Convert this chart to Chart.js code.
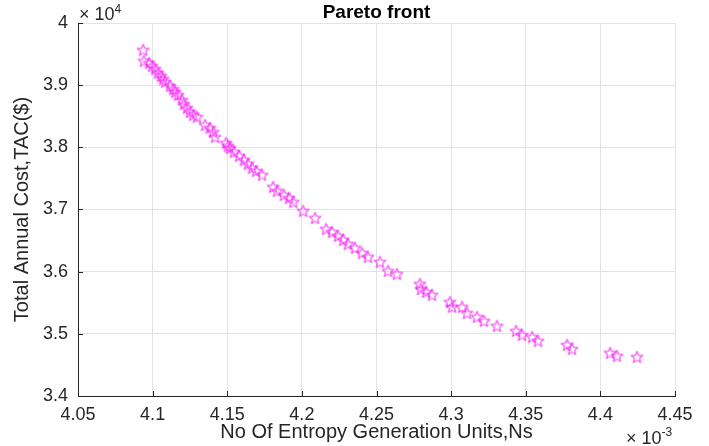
<!DOCTYPE html>
<html>
<head>
<meta charset="utf-8">
<script src="https://cdn.jsdelivr.net/npm/chart.js@4"></script>
<style>
  html, body { margin: 0; padding: 0; background: #fff; }
  #wrap { width: 709px; height: 446px; }
</style>
</head>
<body>
<div id="wrap"><canvas id="paretoChart"></canvas></div>
<script>
// No of entropy generation units Ns (x 1e-3)
const entropyNs = [
  4.0936, 4.0942, 4.0976, 4.0996, 4.1016, 4.1036, 4.1056, 4.1070, 4.1083, 4.1116,
  4.1137, 4.1150, 4.1170, 4.1197, 4.1210, 4.1230, 4.1250, 4.1271, 4.1297, 4.1351,
  4.1384, 4.1405, 4.1418, 4.1492, 4.1505, 4.1518, 4.1545, 4.1579, 4.1612, 4.1639,
  4.1666, 4.1693, 4.1733, 4.1807, 4.1833, 4.1880, 4.1914, 4.1941, 4.2008, 4.2088,
  4.2162, 4.2202, 4.2242, 4.2276, 4.2309, 4.2356, 4.2403, 4.2443, 4.2523, 4.2577,
  4.2637, 4.2791, 4.2798, 4.2832, 4.2872, 4.2992, 4.3006, 4.3073, 4.3106, 4.3173,
  4.3220, 4.3307, 4.3435, 4.3475, 4.3542, 4.3582, 4.3776, 4.3810, 4.4065, 4.4111,
  4.4245
];
// Total annual cost TAC (x 1e4 $)
const costTAC = [
  3.9566, 3.9389, 3.9357, 3.9308, 3.9260, 3.9196, 3.9147, 3.9099, 3.9051, 3.8987,
  3.8938, 3.8890, 3.8842, 3.8761, 3.8697, 3.8633, 3.8568, 3.8520, 3.8488, 3.8359,
  3.8311, 3.8247, 3.8166, 3.8070, 3.8022, 3.7989, 3.7925, 3.7861, 3.7796, 3.7732,
  3.7668, 3.7619, 3.7555, 3.7362, 3.7298, 3.7233, 3.7185, 3.7121, 3.6976, 3.6863,
  3.6686, 3.6638, 3.6574, 3.6510, 3.6445, 3.6381, 3.6300, 3.6236, 3.6156, 3.6011,
  3.5963, 3.5802, 3.5721, 3.5673, 3.5625, 3.5512, 3.5432, 3.5432, 3.5335, 3.5271,
  3.5207, 3.5126, 3.5046, 3.4982, 3.4949, 3.4885, 3.4821, 3.4756, 3.4692, 3.4644,
  3.4628
];
const xTicks = [4.05, 4.1, 4.15, 4.2, 4.25, 4.3, 4.35, 4.4, 4.45];
const xTickLabels = ["4.05", "4.1", "4.15", "4.2", "4.25", "4.3", "4.35", "4.4", "4.45"];
const yTicks = [3.4, 3.5, 3.6, 3.7, 3.8, 3.9, 4];
const yTickLabels = ["3.4", "3.5", "3.6", "3.7", "3.8", "3.9", "4"];

const FONT = "'Liberation Sans', Arial, sans-serif";
const INK = "#262626";

// pentagram marker, like matlab's 'p'
const star = document.createElement("canvas");
star.width = 15;
star.height = 15;
(function () {
  const g = star.getContext("2d");
  g.strokeStyle = "#f61cf6";
  g.lineWidth = 1;
  g.beginPath();
  for (let i = 0; i < 10; i++) {
    const r = i % 2 === 0 ? 6.3 : 2.6;
    const a = -Math.PI / 2 + (i * Math.PI) / 5;
    const px = 7.5 + r * Math.cos(a);
    const py = 8 + r * Math.sin(a);
    if (i === 0) g.moveTo(px, py);
    else g.lineTo(px, py);
  }
  g.closePath();
  g.stroke();
})();

const decor = {
  id: "decor",
  afterDraw(chart) {
    const { ctx, chartArea: a, scales } = chart;
    const x = scales.x, y = scales.y;
    ctx.save();
    // inward tick marks
    ctx.strokeStyle = INK;
    ctx.lineWidth = 1;
    ctx.beginPath();
    x.ticks.forEach((t, i) => {
      const px = Math.round(x.getPixelForTick(i)) + 0.5;
      ctx.moveTo(px, a.bottom);
      ctx.lineTo(px, a.bottom - 5);
    });
    y.ticks.forEach((t, i) => {
      const py = Math.round(y.getPixelForTick(i)) + 0.5;
      ctx.moveTo(a.left, py);
      ctx.lineTo(a.left + 5, py);
    });
    ctx.stroke();

    // title
    ctx.fillStyle = "#000";
    ctx.font = "bold 19px " + FONT;
    ctx.textAlign = "center";
    ctx.textBaseline = "alphabetic";
    ctx.fillText("Pareto front", (a.left + a.right) / 2, 18);

    // exponent labels
    ctx.fillStyle = INK;
    ctx.textAlign = "left";
    ctx.font = "18px " + FONT;
    ctx.fillText("\u00d7 10", a.left + 1, 20);
    let w = ctx.measureText("\u00d7 10").width;
    ctx.font = "12px " + FONT;
    ctx.fillText("4", a.left + 1 + w, 13);

    ctx.font = "18px " + FONT;
    ctx.fillText("\u00d7 10", 626, 444);
    w = ctx.measureText("\u00d7 10").width;
    ctx.font = "12px " + FONT;
    ctx.fillText("-3", 626 + w, 436);
    ctx.restore();
  }
};

new Chart(document.getElementById("paretoChart"), {
  type: "scatter",
  data: {
    datasets: [{
      data: entropyNs.map((v, i) => ({ x: v, y: costTAC[i] })),
      pointStyle: star,
      showLine: false
    }]
  },
  options: {
    responsive: true,
    maintainAspectRatio: false,
    animation: false,
    layout: { padding: { top: 23, right: 34, left: 0, bottom: 0 } },
    plugins: {
      legend: { display: false },
      tooltip: { enabled: false }
    },
    scales: {
      x: {
        type: "linear",
        min: 4.05,
        max: 4.45,
        afterBuildTicks: (s) => { s.ticks = xTicks.map((v) => ({ value: v })); },
        afterFit: (s) => { s.height = 50; },
        grid: { color: "#e3e3e3", drawTicks: false },
        border: { color: INK, width: 1 },
        ticks: {
          autoSkip: false,
          maxRotation: 0,
          padding: 8,
          color: INK,
          font: { family: FONT, size: 18 },
          callback: (v, i) => xTickLabels[i]
        },
        title: {
          display: true,
          text: "No Of Entropy Generation Units,Ns",
          color: INK,
          font: { family: FONT, size: 20 },
          padding: { top: 0, bottom: 2 }
        }
      },
      y: {
        type: "linear",
        min: 3.4,
        max: 4,
        afterBuildTicks: (s) => { s.ticks = yTicks.map((v) => ({ value: v })); },
        afterFit: (s) => { s.width = 78; },
        grid: { color: "#e3e3e3", drawTicks: false },
        border: { color: INK, width: 1 },
        ticks: {
          autoSkip: false,
          padding: 10,
          color: INK,
          font: { family: FONT, size: 18 },
          callback: (v, i) => yTickLabels[i]
        },
        title: {
          display: true,
          text: "Total Annual Cost,TAC($)",
          color: INK,
          font: { family: FONT, size: 20 },
          padding: { top: 10, bottom: 10 }
        }
      }
    }
  },
  plugins: [decor]
});
</script>
</body>
</html>
